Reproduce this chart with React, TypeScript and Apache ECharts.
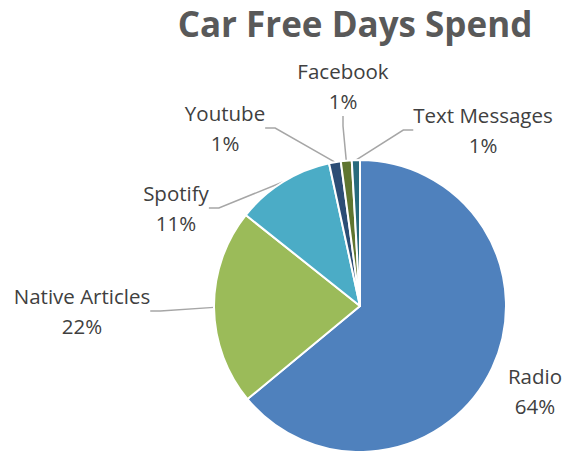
import React, { useEffect, useRef } from "react";
import * as echarts from "echarts";

const categories = ["Radio", "Native Articles", "Spotify", "Youtube", "Facebook", "Text Messages"];
const values = [64.0, 21.7, 10.9, 1.3, 1.2, 0.9];
const colors = ["#4F81BD", "#9BBB59", "#4BACC6", "#2C4D75", "#5F7530", "#276A7C"];
const showLine = [false, true, true, true, true, true];
const labelPos: [number, number][] = [
  [535, 391],
  [82, 311],
  [176, 208],
  [225, 128],
  [343, 86],
  [483, 130],
];

export default function App() {
  const ref = useRef<HTMLDivElement>(null);
  useEffect(() => {
    if (!ref.current) return;
    const chart = echarts.init(ref.current, null, { renderer: "svg" });
    chart.setOption({
      animation: false,
      title: {
        text: "Car Free Days Spend",
        left: 350,
        top: 1,
        textAlign: "center",
        textStyle: {
          fontFamily: "Open Sans",
          fontWeight: "bold",
          fontSize: 35,
          color: "#595959",
        },
      },
      series: [
        {
          type: "pie",
          center: [360, 306],
          radius: 146,
          startAngle: 90,
          clockwise: true,
          data: categories.map((name, i) => ({
            name,
            value: values[i],
            itemStyle: { color: colors[i] },
            labelLine: { show: showLine[i] },
          })),
          itemStyle: { borderColor: "#ffffff", borderWidth: 2 },
          label: {
            show: true,
            formatter: (p: any) => `${p.name}\n${Math.round(p.percent)}%`,
            fontFamily: "Open Sans",
            fontSize: 20.5,
            lineHeight: 30,
            color: "#404040",
            align: "center",
            overflow: "none",
          },
          labelLine: {
            show: true,
            length: 10,
            length2: 10,
            lineStyle: { color: "#A6A6A6", width: 1.5 },
          },
          labelLayout: (params: any) => {
            const p = labelPos[params.dataIndex];
            return { x: p[0], y: p[1], align: "center", verticalAlign: "middle" };
          },
        },
      ],
    });
    return () => chart.dispose();
  }, []);
  return (
    <div
      ref={ref}
      style={{ position: "absolute", left: 0, top: 0, width: 566, height: 451 }}
    />
  );
}
